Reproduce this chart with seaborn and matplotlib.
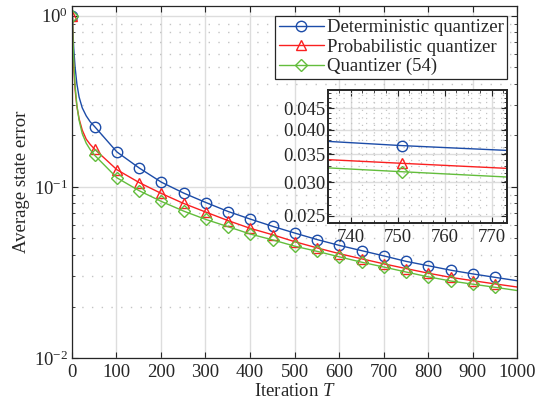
import numpy as np
import pandas as pd
import matplotlib
matplotlib.use('Agg')
import matplotlib.pyplot as plt
import seaborn as sns
from matplotlib.lines import Line2D
from matplotlib.ticker import FixedLocator, FormatStrFormatter, LogLocator, NullFormatter, MultipleLocator

# iterations used to draw the curves (dense at the start, then every 50)
T_curve = [1, 2, 4, 7, 11, 16, 23, 32, 41, 51, 101, 151, 201, 251, 301, 351, 401, 451, 501,
           551, 601, 651, 701, 751, 801, 851, 901, 951, 1000]
det_err = [1.0, 0.82, 0.64, 0.50, 0.40, 0.335, 0.29, 0.26, 0.24, 0.225, 0.160, 0.129, 0.1065,
           0.092, 0.081, 0.0718, 0.0648, 0.0588, 0.0537, 0.0492, 0.0455, 0.0424, 0.0395,
           0.0367, 0.0346, 0.0326, 0.0310, 0.0296, 0.0283]
prob_err = [1.0, 0.72, 0.50, 0.37, 0.295, 0.25, 0.215, 0.19, 0.177, 0.166, 0.126, 0.106, 0.0915,
            0.080, 0.0712, 0.0635, 0.0572, 0.0525, 0.0478, 0.0440, 0.0407, 0.0380, 0.0355,
            0.0333, 0.0313, 0.0296, 0.0283, 0.0271, 0.0260]
q54_err = [1.0, 0.76, 0.54, 0.39, 0.30, 0.245, 0.205, 0.18, 0.165, 0.153, 0.113, 0.095, 0.0822,
           0.0722, 0.0645, 0.0585, 0.0530, 0.0490, 0.0450, 0.0420, 0.0390, 0.0363, 0.0340,
           0.0318, 0.0298, 0.0282, 0.0270, 0.0259, 0.0248]
# markers every 50 iterations
T_marks = [1] + list(range(51, 1000, 50))

labels = ['Deterministic quantizer', 'Probabilistic quantizer', 'Quantizer (54)']
colors = ['#1c4ca8', '#fa2020', '#63bd3c']
markers = ['o', '^', 'D']
msizes = [7.5, 7.5, 6]

sns.set_style('ticks')
plt.rcParams['font.family'] = ['Liberation Serif', 'DejaVu Serif']
plt.rcParams['mathtext.fontset'] = 'custom'
plt.rcParams['mathtext.rm'] = 'Liberation Serif'
plt.rcParams['mathtext.it'] = 'Liberation Serif:italic'

df = pd.DataFrame({'T': T_curve, labels[0]: det_err, labels[1]: prob_err, labels[2]: q54_err})
marks = df[df['T'].isin(T_marks)]

fig = plt.figure(figsize=(5.38, 4.08), dpi=100)
ax = fig.add_axes([0.1338, 0.1225, 0.8272, 0.8627])
ins = fig.add_axes([0.6097, 0.4534, 0.3327, 0.326])

FS = 13.5


def draw(a):
    for lab, c, m, ms in zip(labels, colors, markers, msizes):
        sns.lineplot(data=df, x='T', y=lab, ax=a, color=c, lw=1.0, sort=True)
        sns.lineplot(data=marks, x='T', y=lab, ax=a, color=c, linestyle='', marker=m,
                     markersize=ms, markerfacecolor='none', markeredgecolor=c,
                     markeredgewidth=1.0)


def style(a):
    for s in a.spines.values():
        s.set_color('#262626')
        s.set_linewidth(0.9)
    a.tick_params(which='both', direction='in', top=True, right=True, colors='#262626',
                  labelsize=FS, labelcolor='#262626')
    a.tick_params(which='major', length=4, pad=2)
    a.tick_params(which='minor', length=2.5)
    a.tick_params(axis='x', which='major', pad=4)
    a.set_axisbelow(True)


# main axes
draw(ax)
ax.set_yscale('log')
ax.set_xlim(0, 1000)
ax.set_ylim(0.01, 1.14)
ax.set_xticks(range(0, 1001, 100))
ax.yaxis.set_major_locator(FixedLocator([0.01, 0.1, 1.0]))
ax.yaxis.set_minor_locator(LogLocator(base=10, subs=np.arange(2, 10)))
ax.yaxis.set_minor_formatter(NullFormatter())
ax.grid(True, which='major', color='#dddddd', lw=1.0, ls='-')
ax.grid(True, which='minor', axis='y', color='#c4c4c4', lw=1.0, ls=(0, (1, 6)))
style(ax)
ax.tick_params(axis='y', which='major', pad=3)
ax.set_xlabel('Iteration $T$', fontsize=FS, color='#262626', labelpad=2)
ax.set_ylabel('Average state error', fontsize=FS, color='#262626', labelpad=3)

handles = [Line2D([], [], color=c, lw=1.0, marker=m, markersize=ms, markerfacecolor='none',
                  markeredgecolor=c) for c, m, ms in zip(colors, markers, msizes)]
leg = ax.legend(handles, labels, loc='upper right', bbox_to_anchor=(0.978, 0.973), fontsize=FS,
                frameon=True, fancybox=False, framealpha=1, edgecolor='#262626',
                borderpad=0.2, labelspacing=0.12, handlelength=2.4, handletextpad=0.15,
                borderaxespad=0)
leg.get_frame().set_linewidth(0.9)

# inset zoom
draw(ins)
ins.set_yscale('log')
ins.set_xlim(735.2, 773.3)
ins.set_ylim(0.024, 0.0498)
ins.set_xticks([740, 750, 760, 770])
ins.xaxis.set_minor_locator(MultipleLocator(2.5))
ins.yaxis.set_major_locator(FixedLocator([0.025, 0.030, 0.035, 0.040, 0.045]))
ins.yaxis.set_major_formatter(FormatStrFormatter('%.3f'))
ins.yaxis.set_minor_locator(FixedLocator(np.arange(0.024, 0.050, 0.00125)))
ins.yaxis.set_minor_formatter(NullFormatter())
ins.grid(True, which='major', color='#dddddd', lw=1.0, ls='-')
ins.grid(True, which='minor', color='#c4c4c4', lw=0.9, ls=(0, (1, 5)))
style(ins)
for s in ins.spines.values():
    s.set_linewidth(1.4)
ins.set_xlabel('')
ins.set_ylabel('')
ins.set_facecolor('white')

fig.savefig('out.png', dpi=100)
